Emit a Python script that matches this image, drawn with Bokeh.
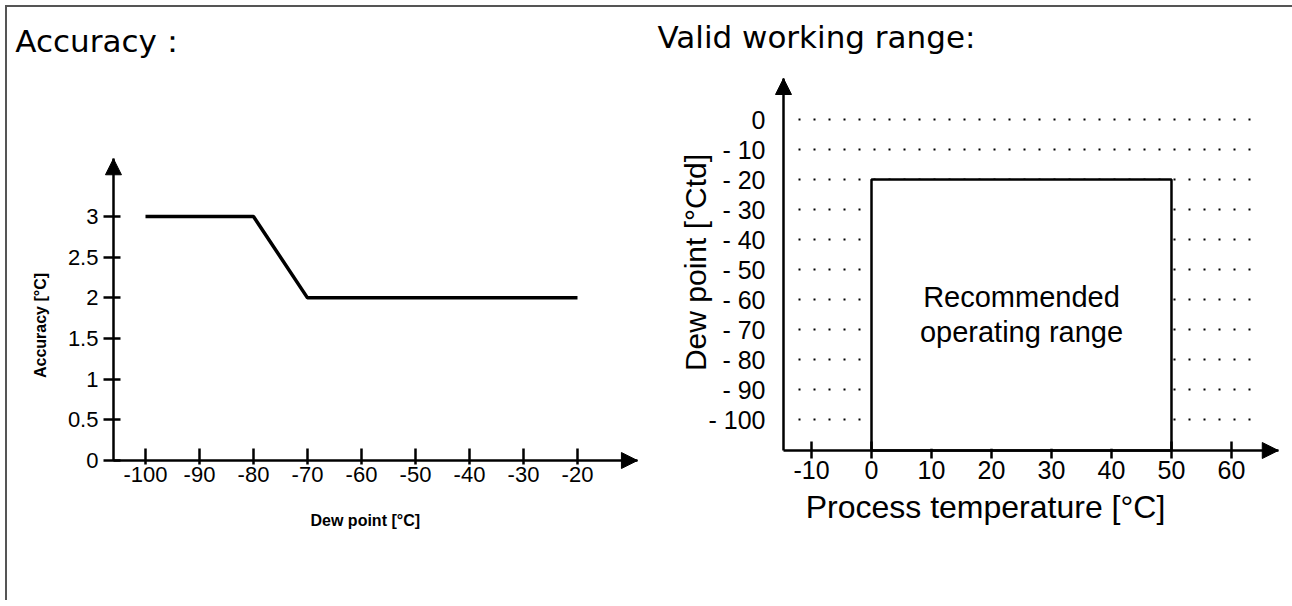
import math
from bokeh.plotting import figure
from bokeh.layouts import row
from bokeh.models import (Arrow, NormalHead, FixedTicker, Label, BoxAnnotation, Range1d,
                          InlineStyleSheet)
from bokeh.embed import file_html
from bokeh.resources import INLINE

# ---- data: accuracy chart ----
ACC_DEW = [-100, -80, -70, -20]
ACC_VAL = [3, 3, 2, 2]
ACC_X_TICKS = [-100, -90, -80, -70, -60, -50, -40, -30, -20]
ACC_X_LABELS = ["-100", "-90", "-80", "-70", "-60", "-50", "-40", "-30", "-20"]
ACC_Y_TICKS = [0, 0.5, 1, 1.5, 2, 2.5, 3]
ACC_Y_LABELS = ["0", "0.5", "1", "1.5", "2", "2.5", "3"]

# ---- data: valid working range ----
RANGE_TEMP = [0, 50]
RANGE_DEW_MAX = -20
WR_X_TICKS = [-10, 0, 10, 20, 30, 40, 50, 60]
WR_X_LABELS = ["-10", "0", "10", "20", "30", "40", "50", "60"]
WR_Y_TICKS = [0, -10, -20, -30, -40, -50, -60, -70, -80, -90, -100]
WR_Y_LABELS = ["0", "- 10", "- 20", "- 30", "- 40", "- 50", "- 60", "- 70", "- 80", "- 90", "- 100"]

TICK_FONT = "Liberation Sans"
TITLE_FONT = "DejaVu Sans"


def make_fig(width, xr, yr):
    p = figure(width=width, height=600, x_range=xr, y_range=yr,
               output_backend="svg", toolbar_location=None, min_border=0)
    p.outline_line_color = None
    p.background_fill_color = None
    p.border_fill_color = None
    p.xgrid.visible = False
    p.ygrid.visible = False
    return p


def style_axis(ax, ticks, labels, loc, bounds, tin, tout, standoff, size):
    ax.fixed_location = loc
    ax.bounds = bounds
    ax.ticker = FixedTicker(ticks=ticks)
    ax.major_label_overrides = dict(zip(ticks, labels))
    ax.axis_line_color = "black"
    ax.axis_line_width = 2.5
    ax.minor_tick_line_color = None
    ax.major_tick_line_color = "black" if (tin or tout) else None
    ax.major_tick_line_width = 2.5
    ax.major_tick_in = tin
    ax.major_tick_out = tout
    ax.major_label_standoff = standoff
    ax.major_label_text_font = TICK_FONT
    ax.major_label_text_font_size = size
    ax.major_label_text_color = "black"


def arrow_head(p, x0, y0, x1, y1):
    p.add_layout(Arrow(end=NormalHead(size=16, fill_color="black", line_color="black", line_width=1),
                       x_start=x0, y_start=y0, x_end=x1, y_end=y1, line_color=None))


def text(p, x, y, s, font, size, style="normal", align="left", baseline="alphabetic", angle=0.0,
         line_height=1.2):
    p.add_layout(Label(x=x, y=y, text=s, text_font=font, text_font_size=size,
                       text_font_style=style, text_color="black", text_align=align,
                       text_baseline=baseline, angle=angle, text_line_height=line_height))


# ================= left: Accuracy =================
xr1 = Range1d(-126.85, -6.85)
yr1 = Range1d(-1.721, 5.656)
p1 = make_fig(648, xr1, yr1)

Y1_AXIS_X = -105.93
X1_AXIS_END = -8.9
Y1_AXIS_END = 3.71
style_axis(p1.xaxis[0], ACC_X_TICKS, ACC_X_LABELS, ACC_Y_TICKS[0], (Y1_AXIS_X, X1_AXIS_END),
           12, 4, 2, "22px")
style_axis(p1.yaxis[0], ACC_Y_TICKS, ACC_Y_LABELS, Y1_AXIS_X, (ACC_Y_TICKS[0], Y1_AXIS_END),
           7, 10, 5, "22px")

p1.line(ACC_DEW, ACC_VAL, line_color="black", line_width=3.5)

arrow_head(p1, X1_AXIS_END - 1, 0, X1_AXIS_END, 0)
arrow_head(p1, Y1_AXIS_X, Y1_AXIS_END - 0.1, Y1_AXIS_X, Y1_AXIS_END)

text(p1, -124.1, 5.16, "Accuracy：", TITLE_FONT, "31px")
text(p1, -119.4, 1.66, "Accuracy [°C]", TICK_FONT, "16px", style="bold",
     align="center", baseline="middle", angle=math.pi / 2)
text(p1, -59.3, -0.738, "Dew point [°C]", TICK_FONT, "16px", style="bold",
     align="center", baseline="middle")

# ================= right: Valid working range =================
xr2 = Range1d(-37.17, 70.17)
yr2 = Range1d(-160.33, 39.67)
p2 = make_fig(644, xr2, yr2)

Y2_AXIS_X = -14.67
X2_AXIS_Y = -110.33
X2_AXIS_END = 67.8
Y2_AXIS_END = 13.67

yg = p2.ygrid[0]
yg.visible = True
yg.ticker = FixedTicker(ticks=WR_Y_TICKS)
yg.grid_line_color = "black"
yg.grid_line_width = 2
yg.grid_line_dash = "2 13"
yg.cross_bounds = (-12.2, 65.4)

style_axis(p2.xaxis[0], WR_X_TICKS, WR_X_LABELS, X2_AXIS_Y, (Y2_AXIS_X, X2_AXIS_END),
           9, 8, 2, "25px")
style_axis(p2.yaxis[0], WR_Y_TICKS, WR_Y_LABELS, Y2_AXIS_X, (X2_AXIS_Y, Y2_AXIS_END),
           0, 0, 18, "25px")

p2.quad(left=[RANGE_TEMP[0]], right=[RANGE_TEMP[1]], top=[RANGE_DEW_MAX], bottom=[X2_AXIS_Y],
        fill_color="white", line_color="black", line_width=2.5)

# white cover so the inner tick stubs do not show inside the range box
p2.add_layout(BoxAnnotation(left=RANGE_TEMP[0] + 0.5, right=RANGE_TEMP[1] - 0.5,
                            bottom=X2_AXIS_Y + 0.6, top=RANGE_DEW_MAX - 3,
                            fill_color="white", fill_alpha=1.0, line_color=None))

text(p2, sum(RANGE_TEMP) / 2, -65, "Recommended\noperating range", TICK_FONT, "29px",
     align="center", baseline="middle", line_height=1.1)

arrow_head(p2, X2_AXIS_END - 1, X2_AXIS_Y, X2_AXIS_END, X2_AXIS_Y)
arrow_head(p2, Y2_AXIS_X, Y2_AXIS_END - 1, Y2_AXIS_X, Y2_AXIS_END)

text(p2, -35.67, 27.67, "Valid working range:", TITLE_FONT, "31px")
text(p2, -29.33, -47.67, "Dew point [°Ctd]", TICK_FONT, "30px",
     align="center", baseline="middle", angle=math.pi / 2)
text(p2, 19.0, -129.0, "Process temperature [°C]", TICK_FONT, "32px",
     align="center", baseline="middle")

layout = row(p1, p2, stylesheets=[InlineStyleSheet(
    css=":host { box-shadow: inset 5px 5px 0 0 #fff, inset 7px 7px 0 0 #555; }")])

open("out.html", "w").write(file_html(layout, INLINE))
